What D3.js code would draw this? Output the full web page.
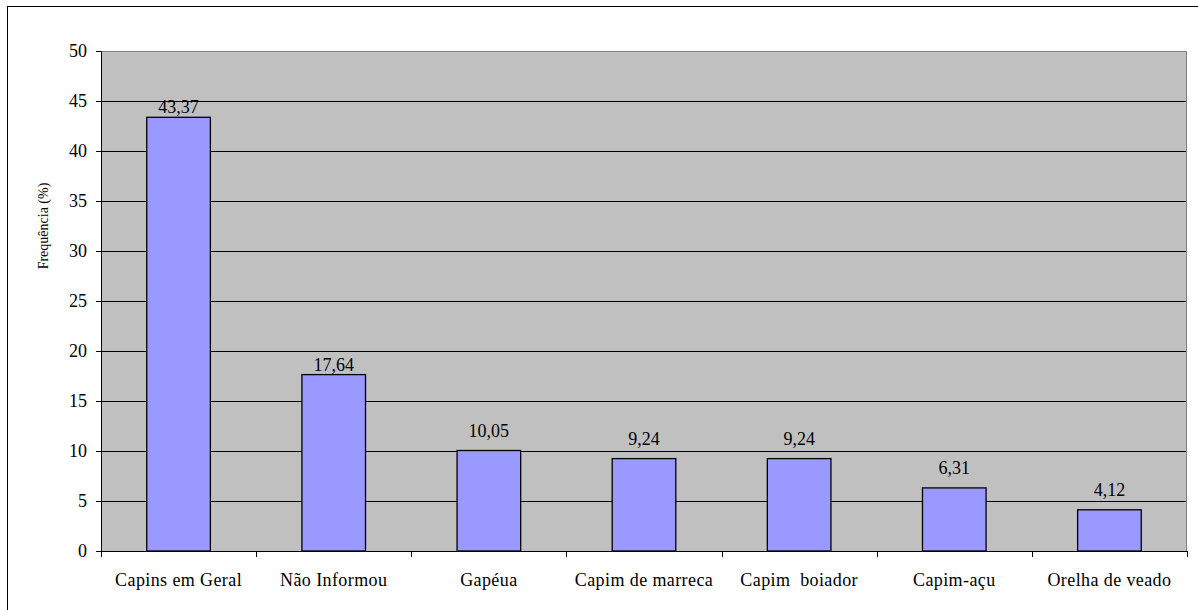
<!DOCTYPE html>
<html><head><meta charset="utf-8">
<script src="https://cdn.jsdelivr.net/npm/d3@7"></script>
<style>body{margin:0;background:#fff;} svg{display:block;}</style>
</head><body>
<svg id="c" width="1198" height="610"></svg>
<script>
const categories = ["Capins em Geral","Não Informou","Gapéua","Capim de marreca","Capim  boiador","Capim-açu","Orelha de veado"];
const values = [43.37,17.64,10.05,9.24,9.24,6.31,4.12];
const valueLabels = ["43,37","17,64","10,05","9,24","9,24","6,31","4,12"];
const yTicks = [0,5,10,15,20,25,30,35,40,45,50];
const yTitle = "Frequência (%)";
const FONT = "'Liberation Serif', 'Times New Roman', Times, serif";

const svg = d3.select("#c");
const m = {l:101, t:51, r:1187, b:551};
svg.append("rect").attr("x",7.5).attr("y",6.5).attr("width",1200).attr("height",620).attr("fill","#fff").attr("stroke","#000").attr("stroke-width",1);

const x = d3.scaleBand().domain(categories).range([m.l,m.r]).paddingInner(0).paddingOuter(0);
const y = d3.scaleLinear().domain([0,50]).range([m.b,m.t]);

svg.append("rect").attr("x",m.l).attr("y",m.t).attr("width",m.r-m.l).attr("height",m.b-m.t).attr("fill","#c0c0c0");
svg.append("path").attr("d",`M${m.l},${m.t+0.5}H${m.r-0.5}V${m.b}`).attr("fill","none").attr("stroke","#808080").attr("stroke-width",1);

svg.append("g").selectAll("line").data(yTicks.filter(d=>d>0&&d<50)).join("line")
  .attr("x1",m.l).attr("x2",m.r-1).attr("y1",d=>Math.round(y(d))+0.5).attr("y2",d=>Math.round(y(d))+0.5)
  .attr("stroke","#000").attr("stroke-width",1);

const bw = x.bandwidth()*0.41;
svg.append("g").selectAll("rect").data(values).join("rect")
  .attr("x",(d,i)=>x(categories[i])+x.bandwidth()/2-bw/2)
  .attr("y",d=>y(d)).attr("width",bw).attr("height",d=>m.b-y(d))
  .attr("fill","#9999ff").attr("stroke","#000").attr("stroke-width",1.3);

svg.append("g").selectAll("text").data(values).join("text")
  .attr("x",(d,i)=>x(categories[i])+x.bandwidth()/2)
  .attr("y",d=>y(d)-(d<15?14:4)).attr("text-anchor","middle").style("font-size","18px").style("font-family",FONT).attr("fill","#000")
  .text((d,i)=>valueLabels[i]);

const ya = d3.axisLeft(y).tickValues(yTicks).tickSize(5).tickPadding(9).tickFormat(d3.format("d"));
const gy = svg.append("g").attr("transform",`translate(${m.l},0)`).call(ya);
gy.select(".domain").attr("stroke","#000");
gy.selectAll(".tick line").attr("stroke","#000");
gy.selectAll("text").style("font-size","18px").style("font-family",FONT).attr("fill","#000");

const xa = d3.axisBottom(x).tickSize(0).tickPadding(0);
const gx = svg.append("g").attr("transform",`translate(0,${m.b})`).call(xa);
gx.select(".domain").attr("stroke","#000").attr("d",`M${m.l},0.5H${m.r}`);
gx.selectAll(".tick text").style("font-size","18px").style("font-family",FONT).style("letter-spacing","0.4px").style("white-space","pre")
  .attr("fill","#000").attr("y",35).attr("dy",null);
const seps = categories.map(c=>x(c)).concat([m.r]);
svg.append("g").selectAll("line").data(seps).join("line")
  .attr("x1",d=>Math.round(d)+0.5).attr("x2",d=>Math.round(d)+0.5).attr("y1",m.b).attr("y2",m.b+6).attr("stroke","#000");

svg.append("text").attr("transform",`translate(48,226) rotate(-90)`).attr("text-anchor","middle")
  .style("font-size","14px").style("font-family",FONT).attr("fill","#000").text(yTitle);
</script>
</body></html>
